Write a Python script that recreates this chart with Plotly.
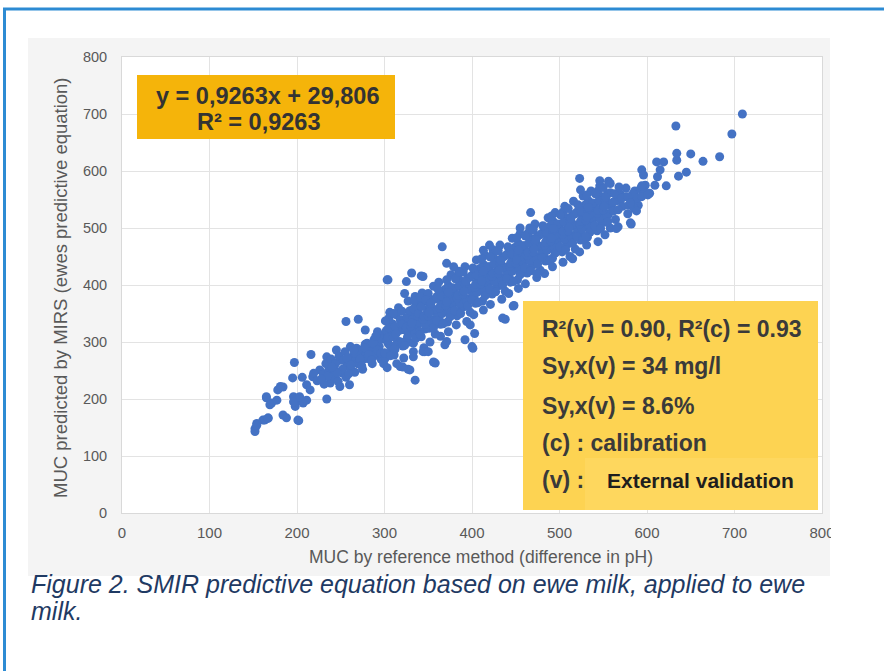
import plotly.graph_objects as go

# ---------------- data ----------------
tail_x = [152, 152, 154, 154, 161, 163, 167, 167, 184, 188, 201, 202, 165, 171, 177, 165, 169,
          178, 184, 181, 196, 200, 198, 207, 195, 206, 197, 216, 234, 218, 226, 234, 240, 245,
          211, 215, 203, 211, 196, 219, 242, 249, 238, 249, 260, 256, 270, 278, 257, 264, 261,
          272, 280, 291, 223, 230]
tail_y = [148, 143, 157, 154, 163, 163, 167, 166, 172, 167, 163, 162, 202, 193, 198, 204, 190,
          216, 221, 222, 204, 198, 187, 193, 237, 238, 264, 278, 200, 239, 251, 274, 251, 286,
          225, 216, 204, 198, 195, 245, 263, 268, 228, 222, 225, 336, 340, 321, 263, 268, 292,
          286, 298, 309, 232, 244]

mid_x = [303, 304, 331, 342, 325, 323, 358, 400, 392, 403, 398, 369, 371, 318, 329, 346, 371,
         379, 413, 366, 344, 447, 438, 356, 335, 327, 321, 344, 350, 333, 448, 467, 515, 565,
         401, 435, 310, 386, 420, 455, 474, 489]
mid_y = [409, 409, 421, 416, 406, 385, 263, 292, 304, 315, 330, 295, 301, 257, 251, 283, 438,
         432, 461, 467, 415, 363, 340, 265, 233, 252, 256, 283, 283, 274, 364, 527, 446, 499,
         289, 342, 350, 422, 470, 500, 420, 442]

upper_x = [523, 524, 546, 558, 568, 581, 567, 578, 581, 594, 603, 594, 609, 622, 594, 596, 615,
           611, 619, 636, 645, 634, 634, 650, 664, 683, 633, 697, 709, 530, 582, 601, 588, 612]
upper_y = [587, 567, 583, 578, 572, 509, 502, 555, 544, 555, 561, 574, 575, 574, 602, 593, 602,
           616, 616, 591, 598, 619, 631, 630, 617, 625, 679, 665, 700, 485, 507, 558, 530, 590]

band_low_x = [231, 236, 233, 238, 239, 241, 244, 247, 243, 248, 251, 253, 256, 258, 255,
              261, 264, 266, 268, 263, 269, 271, 273, 276, 278, 275, 279, 281, 284, 286, 288,
              283, 289, 291, 293, 296, 298, 294, 299, 292,
              252, 257, 262, 267, 272, 277, 282, 287, 292, 297, 259, 265, 274, 285, 290, 296,
              246, 240, 235, 228]
band_low_y = [226, 250, 262, 236, 270, 240, 262, 231, 252, 275, 246, 268, 238, 258, 283,
              255, 276, 247, 289, 266, 262, 262, 284, 270, 296, 252, 279, 271, 292, 262, 304,
              283, 276, 280, 302, 270, 312, 292, 262, 318,
              252, 272, 260, 280, 270, 290, 278, 298, 286, 305, 244, 286, 258, 268, 310, 280,
              246, 256, 240, 235]

core_x = [301, 308, 304, 306, 302, 309, 305, 303, 312, 317, 310, 315, 319, 313, 311, 318,
          321, 326, 329, 323, 325, 320, 328, 322, 333, 338, 331, 336, 330, 339, 334, 337,
          342, 347, 340, 345, 349, 343, 341, 348, 351, 356, 359, 353, 355, 350, 358, 354,
          364, 361, 368, 366, 360, 369, 363, 367, 372, 377, 370, 375, 379, 373, 371, 378,
          383, 388, 381, 386, 380, 389, 384, 387, 391, 396, 399, 393, 395, 390, 398, 394,
          404, 401, 408, 406, 400, 409, 403, 407, 412, 417, 410, 415, 419, 413, 411, 418,
          423, 428, 421, 426, 420, 429, 424, 427, 431, 436, 439, 433, 435, 430, 438, 434,
          444, 441, 448, 446, 440, 449, 443, 447, 452, 457, 450, 455, 459, 453, 451, 458,
          463, 468, 461, 466, 460, 469, 464, 467, 471, 476, 479, 473, 475, 470, 478, 474,
          484, 481, 488, 486, 480, 489, 483, 487, 492, 497, 490, 495, 499, 493, 491, 498,
          503, 508, 501, 506, 500, 509, 504, 507, 511, 516, 519, 513, 515, 510, 518, 514,
          524, 521, 528, 526, 520, 529, 523, 527, 532, 537, 530, 535, 539, 533, 531, 538,
          543, 548, 541, 546, 540, 549, 544, 547, 551, 556, 559, 553, 555, 550, 558, 554]
core_y = [272, 286, 298, 309, 320, 332, 342, 304, 287, 301, 315, 325, 337, 348, 277, 321,
          293, 307, 319, 331, 342, 354, 300, 336, 298, 312, 323, 335, 350, 362, 372, 328,
          309, 323, 335, 346, 357, 369, 379, 341, 324, 338, 352, 362, 374, 385, 314, 358,
          331, 345, 357, 369, 380, 392, 338, 374, 335, 349, 360, 372, 387, 399, 409, 365,
          346, 360, 372, 383, 394, 406, 416, 378, 362, 376, 390, 400, 412, 423, 352, 396,
          368, 382, 394, 406, 417, 429, 375, 411, 372, 386, 397, 409, 424, 436, 446, 402,
          384, 398, 410, 421, 432, 444, 454, 416, 399, 413, 427, 437, 449, 460, 389, 433,
          405, 419, 431, 443, 454, 466, 412, 448, 409, 423, 434, 446, 461, 473, 483, 439,
          421, 435, 447, 458, 469, 481, 491, 453, 436, 450, 464, 474, 486, 497, 426, 470,
          442, 456, 468, 480, 491, 503, 449, 485, 447, 461, 472, 484, 499, 511, 521, 477,
          458, 472, 484, 495, 506, 518, 528, 490, 473, 487, 501, 511, 523, 534, 463, 507,
          479, 493, 505, 517, 528, 540, 486, 522, 484, 498, 509, 521, 536, 548, 558, 514,
          495, 509, 521, 532, 543, 555, 565, 527, 510, 524, 538, 548, 560, 571, 500, 544]

fill_x = [300, 306, 303, 309, 305, 301, 307, 304, 314, 310, 316, 312, 318, 311, 313, 319,
          320, 327, 324, 321, 326, 329, 323, 325, 335, 330, 332, 338, 333, 336, 331, 339,
          340, 346, 344, 349, 342, 347, 341, 345, 354, 350, 357, 352, 359, 356, 351, 353,
          360, 366, 363, 369, 365, 361, 367, 364, 374, 370, 376, 372, 378, 375, 371, 373,
          380, 386, 383, 389, 385, 381, 387, 384, 394, 390, 396, 392, 398, 395, 391, 393,
          400, 406, 403, 409, 405, 401, 407, 404, 414, 410, 416, 412, 418, 415, 411, 413,
          420, 426, 423, 429, 425, 421, 427, 424, 434, 430, 436, 432, 438, 435, 431, 433,
          440, 446, 443, 449, 445, 441, 447, 444, 454, 450, 456, 452, 458, 455, 451, 453,
          460, 466, 463, 469, 465, 461, 467, 464, 474, 470, 476, 472, 478, 475, 471, 473,
          480, 486, 483, 489, 485, 481, 487, 484, 494, 490, 496, 492, 498, 495, 491, 493,
          500, 506, 503, 509, 505, 501, 507, 504, 514, 510, 516, 512, 518, 515, 511, 513,
          520, 526, 523, 529, 525, 521, 527, 524, 534, 530, 536, 532, 538, 535, 531, 533,
          540, 546, 543, 549, 545, 541, 547, 544, 554, 550, 556, 552, 558, 555, 551, 553]
fill_y = [281, 294, 303, 314, 325, 337, 276, 308, 297, 309, 320, 327, 339, 288, 314, 331,
          299, 312, 321, 332, 343, 355, 294, 326, 316, 328, 339, 346, 358, 307, 333, 350,
          318, 331, 340, 351, 362, 374, 313, 345, 334, 346, 357, 364, 376, 325, 351, 368,
          337, 350, 359, 370, 381, 393, 332, 364, 353, 365, 376, 383, 395, 344, 370, 387,
          355, 368, 377, 388, 399, 411, 350, 382, 372, 384, 395, 402, 414, 363, 389, 406,
          374, 387, 396, 407, 418, 430, 369, 401, 390, 402, 413, 420, 432, 381, 407, 424,
          393, 406, 415, 426, 437, 449, 388, 420, 409, 421, 432, 439, 451, 400, 426, 443,
          411, 424, 433, 444, 455, 467, 406, 438, 427, 439, 450, 457, 469, 418, 444, 461,
          430, 443, 452, 463, 474, 486, 425, 457, 446, 458, 469, 476, 488, 437, 463, 480,
          448, 461, 470, 481, 492, 504, 443, 475, 465, 477, 488, 495, 507, 456, 482, 499,
          467, 480, 489, 500, 511, 523, 462, 494, 483, 495, 506, 513, 525, 474, 500, 517,
          485, 498, 507, 518, 529, 541, 480, 512, 502, 514, 525, 532, 544, 493, 519, 536,
          504, 517, 526, 537, 548, 560, 499, 531, 520, 532, 543, 550, 562, 511, 537, 554]

edge_low_x = [303, 314, 322, 333, 345, 352, 364, 373, 382, 394, 402, 413, 421, 434, 442, 453,
              461, 474, 483, 492, 504, 512, 523, 531, 544, 552]
edge_low_y = [255, 262, 272, 283, 290, 300, 310, 318, 330, 336, 348, 356, 366, 375, 385, 394,
              402, 413, 420, 432, 440, 450, 458, 470, 476, 488]
edge_high_x = [306, 316, 327, 335, 343, 356, 362, 376, 385, 392, 405, 415, 424, 432, 446, 455,
               466, 472, 487, 495, 506, 516, 527, 536, 546, 556]
edge_high_y = [352, 360, 372, 380, 386, 398, 405, 418, 424, 432, 444, 452, 462, 470, 482, 490,
               500, 507, 518, 527, 538, 547, 556, 565, 574, 582]

band_high_x = [562, 566, 564, 569, 572, 575, 578, 583, 586, 590, 595, 598,
               561, 563, 567, 571, 576, 579, 584, 589, 593, 597, 585]
band_high_y = [530, 548, 515, 560, 538, 555, 525, 548, 565, 540, 560, 575,
               545, 560, 532, 552, 570, 540, 560, 552, 570, 563, 535]

x_ticks = [0, 100, 200, 300, 400, 500, 600, 700, 800]
y_ticks = [0, 100, 200, 300, 400, 500, 600, 700, 800]

eq_lines = ["y = 0,9263x + 29,806", "R² = 0,9263"]
stat_lines = ["R²(v) = 0.90, R²(c) = 0.93", "Sy,x(v) = 34 mg/l", "Sy,x(v) = 8.6%",
              "(c) : calibration", "(v) :"]
stat_extra = "External validation"
x_title = "MUC by reference method (difference in pH)"
y_title = "MUC predicted by MIRS (ewes predictive equation)"
caption_lines = ["Figure 2. SMIR predictive equation based on ewe milk, applied to ewe",
                 "milk."]

# ---------------- build ----------------
all_x = (tail_x + band_low_x + edge_low_x + edge_high_x + core_x + fill_x + band_high_x
         + mid_x + upper_x)
all_y = (tail_y + band_low_y + edge_low_y + edge_high_y + core_y + fill_y + band_high_y
         + mid_y + upper_y)

W, H = 884, 671
L, R, T, B = 122, 62, 57, 158
PW, PH = W - L - R, H - T - B


def pxx(v):
    return (v - L) / PW


def pyy(v):
    return (H - B - v) / PH


fig = go.Figure()
fig.add_trace(go.Scatter(x=all_x, y=all_y, mode="markers",
                         marker=dict(size=9, color="#4472C4", line=dict(width=0)),
                         showlegend=False, hoverinfo="x+y"))

shapes = []
gray = "#f4f4f4"
for (x0, y0, x1, y1) in [(28, 38, 830, 57), (28, 513, 830, 576), (28, 57, 122, 513), (822, 57, 830, 513)]:
    shapes.append(dict(type="rect", xref="paper", yref="paper", x0=pxx(x0), x1=pxx(x1),
                       y0=pyy(y1), y1=pyy(y0), fillcolor=gray, line=dict(width=0), layer="below"))
shapes.append(dict(type="line", xref="paper", yref="paper", x0=pxx(3), x1=pxx(884),
                   y0=pyy(9), y1=pyy(9), line=dict(color="#2d8bd3", width=3), layer="above"))
shapes.append(dict(type="line", xref="paper", yref="paper", x0=pxx(4.5), x1=pxx(4.5),
                   y0=pyy(8), y1=pyy(671), line=dict(color="#2d8bd3", width=3), layer="above"))
shapes.append(dict(type="rect", xref="paper", yref="paper", x0=pxx(831), x1=pxx(884),
                   y0=pyy(545), y1=pyy(518), fillcolor="white", line=dict(width=0), layer="above"))
shapes.append(dict(type="rect", xref="paper", yref="paper", x0=pxx(137), x1=pxx(395),
                   y0=pyy(139), y1=pyy(75), fillcolor="#f5b40a", line=dict(width=0), layer="above"))
shapes.append(dict(type="rect", xref="paper", yref="paper", x0=pxx(523), x1=pxx(818),
                   y0=pyy(510), y1=pyy(301), fillcolor="#fdd352", line=dict(width=0), layer="above"))
shapes.append(dict(type="rect", xref="paper", yref="paper", x0=pxx(585), x1=pxx(818),
                   y0=pyy(510), y1=pyy(458), fillcolor="#fed75e", line=dict(width=0), layer="above"))

ann = []
box_font = dict(family="Liberation Sans, Arial", size=23.5, color="#333333")
ann.append(dict(text="<b>%s</b>" % eq_lines[0], x=pxx(267), y=pyy(96), xref="paper", yref="paper",
                xanchor="center", yanchor="middle", showarrow=False, font=box_font))
ann.append(dict(text="<b>%s</b>" % eq_lines[1], x=pxx(258), y=pyy(122), xref="paper", yref="paper",
                xanchor="center", yanchor="middle", showarrow=False, font=box_font))
stat_y = [329, 366, 406, 443, 480]
for t, yv in zip(stat_lines, stat_y):
    ann.append(dict(text="<b>%s</b>" % t, x=pxx(540), y=pyy(yv), xref="paper", yref="paper",
                    xanchor="left", yanchor="middle", showarrow=False,
                    font=dict(family="Liberation Sans, Arial", size=23, color="#3a3a3a")))
ann.append(dict(text="<b>%s</b>" % stat_extra, x=pxx(605), y=pyy(480), xref="paper", yref="paper",
                xanchor="left", yanchor="middle", showarrow=False,
                font=dict(family="Liberation Sans, Arial", size=21, color="#1e1e1e")))
ann.append(dict(text=y_title, x=pxx(60), y=pyy(288), xref="paper", yref="paper", textangle=-90,
                xanchor="center", yanchor="middle", showarrow=False,
                font=dict(family="Liberation Sans, Arial", size=18.5, color="#595959")))
ann.append(dict(text=x_title, x=pxx(481), y=pyy(557), xref="paper", yref="paper",
                xanchor="center", yanchor="middle", showarrow=False,
                font=dict(family="Liberation Sans, Arial", size=17.5, color="#595959")))
cap_y = [584, 611]
for t, yv in zip(caption_lines, cap_y):
    ann.append(dict(text="<i>%s</i>" % t, x=pxx(29), y=pyy(yv), xref="paper", yref="paper",
                    xanchor="left", yanchor="middle", showarrow=False,
                    font=dict(family="Liberation Sans, Arial", size=25, color="#1f3a63")))

axis_common = dict(showgrid=True, gridcolor="#e3e3e3", gridwidth=1, zeroline=False,
                   showline=True, linecolor="#d9d9d9", linewidth=1, mirror=True, ticks="")
fig.update_xaxes(range=[0, 800], tickvals=x_ticks, ticktext=[str(v) for v in x_ticks],
                 tickfont=dict(family="Liberation Sans, Arial", size=15, color="#595959"),
                 ticklabelstandoff=6, **axis_common)
fig.update_yaxes(range=[0, 800], tickvals=y_ticks, ticktext=[str(v) for v in y_ticks],
                 tickfont=dict(family="Liberation Sans, Arial", size=14.5, color="#595959"),
                 ticklabelstandoff=11, **axis_common)

fig.update_layout(width=W, height=H, margin=dict(l=L, r=R, t=T, b=B, autoexpand=False),
                  paper_bgcolor="white", plot_bgcolor="white",
                  shapes=shapes, annotations=ann, showlegend=False)
fig.write_html("out.html", config={"displayModeBar": False},
               post_script="document.body.style.margin='0';")
